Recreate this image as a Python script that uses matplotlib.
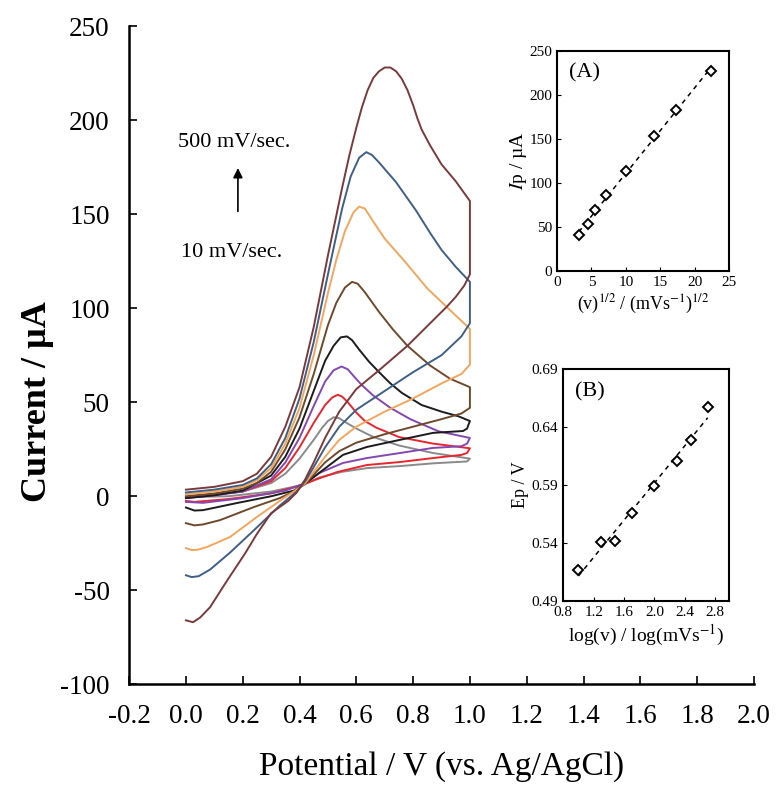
import numpy as np
import matplotlib
matplotlib.use('Agg')
import matplotlib.pyplot as plt

plt.rcParams['font.family'] = ['Liberation Serif', 'DejaVu Serif']
plt.rcParams['mathtext.fontset'] = 'stix'
plt.rcParams['axes.unicode_minus'] = False

# scan rates (mV/s) and colours, slowest first
rates = [10, 20, 30, 50, 100, 200, 300, 500]
colors = ['#8a8a8a', '#e8262e', '#8448b0', '#1c1c1c', '#6e4a2c', '#f2a65e', '#3f5f86', '#7a3a3c']

# forward scans (E / V, I / uA)
fwd = {
    10: [(0, 0), (0.1, 1), (0.2, 2.5), (0.3, 7), (0.35, 12), (0.4, 20), (0.45, 30), (0.48, 36.5), (0.5, 40),
         (0.52, 42), (0.54, 41.5), (0.56, 39.5), (0.6, 36), (0.66, 31.5), (0.75, 27), (0.87, 23), (1.0, 20)],
    20: [(0, -0.5), (0.1, 1), (0.2, 2.5), (0.3, 8), (0.35, 15), (0.4, 26), (0.45, 39), (0.49, 48.5),
         (0.515, 52.5), (0.535, 54), (0.55, 53), (0.57, 50), (0.6, 44.5), (0.63, 40), (0.67, 36.5),
         (0.75, 31.5), (0.87, 28), (1.0, 25.5)],
    30: [(0, -1), (0.1, 0.5), (0.2, 2.5), (0.3, 9), (0.35, 18), (0.4, 31), (0.45, 48), (0.49, 61),
         (0.52, 67), (0.548, 69), (0.57, 67.5), (0.59, 64), (0.62, 59), (0.66, 53.5), (0.72, 47), (0.79, 41),
         (0.89, 34.5), (1.0, 31)],
    50: [(0, -1), (0.1, 0.5), (0.2, 3), (0.3, 11), (0.35, 21), (0.4, 36), (0.45, 56), (0.49, 72), (0.52, 80),
         (0.545, 84.5), (0.567, 85), (0.585, 83), (0.61, 78), (0.645, 71.5), (0.68, 66), (0.72, 60),
         (0.76, 55), (0.83, 48.5), (0.9, 45), (0.96, 42.5), (1.0, 40)],
    100: [(0, 0), (0.1, 1.5), (0.2, 4), (0.25, 7), (0.3, 13), (0.35, 25), (0.4, 42), (0.45, 65), (0.5, 91),
          (0.53, 103), (0.56, 111), (0.585, 114), (0.605, 113), (0.63, 108.5), (0.68, 98), (0.73, 88.5),
          (0.78, 80), (0.86, 69.5), (0.93, 62.5), (1.0, 58)],
    200: [(0, 1), (0.1, 2.5), (0.2, 5), (0.25, 8.5), (0.3, 15), (0.35, 28), (0.4, 47), (0.45, 75), (0.5, 108),
          (0.53, 126), (0.56, 141), (0.59, 151), (0.61, 154), (0.63, 153), (0.66, 146), (0.7, 137),
          (0.77, 125), (0.85, 110.5), (0.93, 99), (1.0, 89)],
    300: [(0, 2), (0.1, 3.5), (0.2, 6), (0.25, 9.5), (0.3, 17), (0.35, 31), (0.4, 52), (0.45, 82), (0.5, 118),
          (0.55, 153), (0.58, 170), (0.61, 180), (0.635, 183), (0.655, 181.5), (0.68, 177.5), (0.74, 167),
          (0.81, 152), (0.86, 140), (0.9, 131), (0.95, 122), (1.0, 114)],
    500: [(0, 3.5), (0.1, 5), (0.2, 8), (0.25, 12), (0.3, 21), (0.35, 37), (0.4, 58), (0.45, 90), (0.5, 128),
          (0.55, 164), (0.575, 181), (0.6, 196), (0.62, 207), (0.64, 216), (0.66, 222.5), (0.68, 226),
          (0.7, 228), (0.72, 228), (0.74, 226), (0.76, 222), (0.78, 216), (0.8, 208), (0.815, 201),
          (0.83, 195), (0.86, 186.5), (0.9, 176.5), (0.95, 167.5), (1.0, 157)],
}

# reverse scans (E / V, I / uA)
rev = {
    10: [(1.0, 20), (0.99, 18.5), (0.87, 17.5), (0.75, 16), (0.64, 15), (0.55, 13), (0.47, 10), (0.41, 6),
         (0.3, 2.5), (0.15, 0), (0.0, -0.5)],
    20: [(1.0, 25.5), (0.99, 23), (0.97, 22), (0.87, 20.3), (0.754, 18.2), (0.637, 16.6), (0.533, 12.9),
         (0.46, 9), (0.41, 6), (0.3, 1.5), (0.15, -1.5), (0.03, -3), (0.0, -2.5)],
    30: [(1.0, 31), (0.99, 28), (0.97, 26.6), (0.87, 25.7), (0.754, 23), (0.637, 20.3), (0.553, 17.7),
         (0.47, 12.4), (0.42, 7), (0.35, 3), (0.2, -1), (0.06, -3.5), (0.0, -3)],
    50: [(1.0, 40), (0.99, 36), (0.976, 34.7), (0.87, 33.7), (0.754, 30), (0.637, 26.2), (0.553, 22),
         (0.496, 15.5), (0.436, 8.6), (0.38, 3), (0.3, 0), (0.18, -3.6), (0.06, -7.4), (0.03, -7.6), (0.0, -6)],
    100: [(1.0, 58), (1.0, 47), (0.97, 44), (0.9, 41), (0.8, 37), (0.7, 33), (0.6, 28.5), (0.54, 24),
          (0.49, 18), (0.45, 11.5), (0.42, 6.5), (0.38, 2.5), (0.33, -1), (0.24, -5.7), (0.12, -12.7),
          (0.06, -15), (0.03, -15.5), (0.0, -14.3)],
    200: [(1.0, 89), (1.0, 70), (0.97, 65), (0.9, 60), (0.8, 52), (0.7, 45), (0.6, 37), (0.54, 30),
          (0.49, 21), (0.45, 13), (0.42, 7), (0.38, 2.5), (0.34, -1.5), (0.25, -11), (0.155, -21.7),
          (0.074, -27), (0.04, -28.5), (0.02, -28.6), (0.0, -27.6)],
    300: [(1.0, 114), (1.0, 92), (0.97, 85), (0.9, 75), (0.8, 66), (0.7, 56), (0.6, 46), (0.54, 37),
          (0.49, 26), (0.45, 15.5), (0.42, 8), (0.39, 2.5), (0.33, -5), (0.24, -18), (0.155, -30),
          (0.085, -39), (0.045, -42.5), (0.02, -43), (0.0, -42)],
    500: [(1.0, 157), (1.0, 118), (0.98, 112), (0.95, 106), (0.92, 101), (0.86, 92), (0.78, 80), (0.68, 67),
          (0.6, 57), (0.54, 45), (0.49, 31), (0.45, 18), (0.42, 9), (0.39, 2), (0.36, -2.5), (0.3, -9),
          (0.25, -20), (0.21, -30), (0.14, -46), (0.085, -59), (0.05, -64.5), (0.025, -67), (0.0, -66)],
}

# inset data
sqrt_v = [3.16, 4.47, 5.48, 7.07, 10.0, 14.14, 17.32, 22.36]
ip = [41, 53, 68.6, 85.6, 112.9, 153, 183, 227]
log_v = [1.0, 1.3, 1.48, 1.7, 2.0, 2.3, 2.48, 2.7]
ep = [0.517, 0.541, 0.542, 0.566, 0.589, 0.611, 0.629, 0.657]

fig = plt.figure(figsize=(7.78, 7.92), dpi=100)
ax = fig.add_axes([0.166, 0.136, 0.803, 0.831])

for r, c in zip(rates, colors):
    f = np.array(fwd[r])
    b = np.array(rev[r])
    e = np.concatenate([f[:, 0], b[:, 0]])
    i = np.concatenate([f[:, 1], b[:, 1]])
    ax.plot(e, i, color=c, lw=1.4, solid_joinstyle='round')

ax.set_xlim(-0.2, 2.0)
ax.set_ylim(-100, 250)
ax.set_xticks(np.arange(-0.2, 2.01, 0.2))
ax.set_xticklabels(['%.1f' % t for t in np.arange(-0.2, 2.01, 0.2)])
ax.set_yticks(np.arange(-100, 251, 50))
ax.spines['top'].set_visible(False)
ax.spines['right'].set_visible(False)
ax.spines['left'].set_linewidth(1.8)
ax.spines['bottom'].set_linewidth(1.8)
ax.tick_params(direction='in', length=6, width=1.2, labelsize=19.5, pad=14)
ax.set_xlabel('Potential / V (vs. Ag/AgCl)', fontsize=24, labelpad=16)
ax.set_ylabel('Current / µA', fontsize=26, fontweight='bold', va='center')
ax.yaxis.set_label_coords(-0.146, 0.43)

ax.text(0.169, 188, '500 mV/sec.', fontsize=16, ha='center', va='center')
ax.text(0.162, 129.5, '10 mV/sec.', fontsize=16, ha='center', va='center')
ax.annotate('', xy=(0.183, 176), xytext=(0.183, 150),
            arrowprops=dict(arrowstyle='-|>', color='black', lw=1.2, mutation_scale=14))

# inset A
axA = fig.add_axes([0.716, 0.658, 0.221, 0.278])
axA.plot(sqrt_v, ip, 'D', ms=5.5, mfc='white', mec='black', mew=1.4, zorder=3)
k = np.polyfit(sqrt_v, ip, 1)
xa = np.array([sqrt_v[0], sqrt_v[-1]])
axA.plot(xa, np.polyval(k, xa), '--', color='black', lw=1.1, dashes=(3, 3))
axA.set_xlim(0, 25)
axA.set_ylim(0, 250)
axA.set_xticks(range(0, 26, 5))
axA.set_yticks(range(0, 251, 50))
axA.tick_params(direction='in', length=3, labelsize=11)
for s in axA.spines.values():
    s.set_linewidth(1.5)
axA.text(0.07, 0.9, '(A)', transform=axA.transAxes, fontsize=16, va='center')
axA.set_ylabel(r'$I$p / µA', fontsize=14, labelpad=0)
axA.set_xlabel(r'(v)$^{1/2}$ / (mVs$^{-1}$)$^{1/2}$', fontsize=13, labelpad=3)

# inset B
axB = fig.add_axes([0.724, 0.241, 0.213, 0.293])
axB.plot(log_v, ep, 'D', ms=5.5, mfc='white', mec='black', mew=1.4, zorder=3)
k = np.polyfit(log_v, ep, 1)
xb = np.array([log_v[0], log_v[-1]])
axB.plot(xb, np.polyval(k, xb), '--', color='black', lw=1.1, dashes=(3, 3))
axB.set_xlim(0.8, 2.98)
axB.set_ylim(0.49, 0.69)
axB.set_xticks([0.8, 1.2, 1.6, 2.0, 2.4, 2.8])
axB.set_xticklabels(['0.8', '1.2', '1.6', '2.0', '2.4', '2.8'])
axB.set_yticks([0.49, 0.54, 0.59, 0.64, 0.69])
axB.set_yticklabels(['0.49', '0.54', '0.59', '0.64', '0.69'])
axB.tick_params(direction='in', length=3, labelsize=11)
for s in axB.spines.values():
    s.set_linewidth(1.5)
axB.text(0.07, 0.9, '(B)', transform=axB.transAxes, fontsize=16, va='center')
axB.set_ylabel('Ep / V', fontsize=13, labelpad=2)
axB.set_xlabel(r'log(v) / log(mVs$^{-1}$)', fontsize=14, labelpad=3)

fig.savefig('out.png', dpi=100)
